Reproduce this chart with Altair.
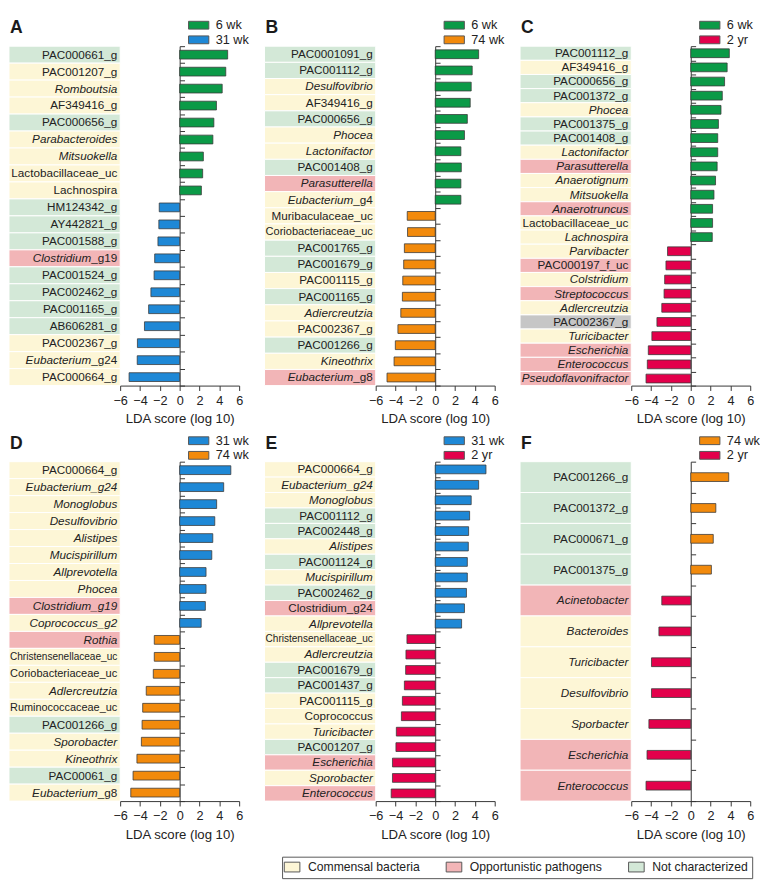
import altair as alt
import pandas as pd

FONT = "Liberation Sans"
LW, PW, H = 114, 122, 348      # label column width, bar plot width, plot height
GAP, VGAP = 15, 9

# ---------------- data ----------------
a_names = ["PAC000661_g", "PAC001207_g", "*Romboutsia*", "AF349416_g", "PAC000656_g",
           "*Parabacteroides*", "*Mitsuokella*", "Lactobacillaceae_uc", "Lachnospira",
           "HM124342_g", "AY442821_g", "PAC001588_g", "*Clostridium*_g19", "PAC001524_g",
           "PAC002462_g", "PAC001165_g", "AB606281_g", "PAC002367_g", "*Eubacterium*_g24",
           "PAC000664_g"]
a_values = [4.84, 4.65, 4.29, 3.71, 3.45, 3.35, 2.39, 2.32, 2.19,
            -2.06, -2.10, -2.19, -2.52, -2.58, -2.90, -3.13, -3.55, -4.26, -4.28, -5.10]
a_class = "NCCCNCCCC" + "NNNPNNNNCCC"
a_groups = ["6 wk", "31 wk"]

b_names = ["PAC0001091_g", "PAC001112_g", "*Desulfovibrio*", "AF349416_g", "PAC000656_g",
           "*Phocea*", "*Lactonifactor*", "PAC001408_g", "*Parasutterella*", "*Eubacterium*_g4",
           "Muribaculaceae_uc", "Coriobacteriaceae_uc", "PAC001765_g", "PAC001679_g",
           "PAC001115_g", "PAC001165_g", "*Adiercreutzia*", "PAC002367_g", "PAC001266_g",
           "*Kineothrix*", "*Eubacterium*_g8"]
b_values = [4.38, 3.73, 3.63, 3.53, 3.24, 2.95, 2.59, 2.63, 2.59, 2.59,
            -2.82, -2.79, -3.11, -3.18, -3.27, -3.31, -3.47, -3.76, -4.02, -4.15, -4.86]
b_class = "NNCCNCCNPC" + "CCNNCNCCNCP"
b_groups = ["6 wk", "74 wk"]

c_names = ["PAC001112_g", "AF349416_g", "PAC000656_g", "PAC001372_g", "*Phocea*",
           "PAC001375_g", "PAC001408_g", "*Lactonifactor*", "*Parasutterella*",
           "*Anaerotignum*", "*Mitsuokella*", "*Anaerotruncus*", "Lactobacillaceae_uc",
           "*Lachnospira*", "*Parvibacter*", "PAC000197_f_uc", "*Colstridium*",
           "*Streptococcus*", "*Adlercreutzia*", "PAC002367_g", "*Turicibacter*",
           "*Escherichia*", "*Enterococcus*", "*Pseudoflavonifractor*"]
c_values = [3.89, 3.67, 3.41, 3.18, 3.05, 2.79, 2.72, 2.72, 2.66, 2.50, 2.34, 2.20, 2.20, 2.17,
            -2.34, -2.50, -2.63, -2.69, -2.92, -3.41, -3.92, -4.28, -4.38, -4.51]
c_class = "NCNNCNNCPCCPCC" + "CPCPCGCPPP"
c_groups = ["6 wk", "2 yr"]

d_names = ["PAC000664_g", "*Eubacterium_g24*", "*Monoglobus*", "*Desulfovibrio*", "*Alistipes*",
           "*Mucispirillum*", "*Allprevotella*", "*Phocea*", "*Clostridium_g19*",
           "*Coprococcus_g2*", "*Rothia*", "Christensenellaceae_uc", "Coriobacteriaceae_uc",
           "*Adlercreutzia*", "Ruminococcaceae_uc", "PAC001266_g", "*Sporobacter*",
           "*Kineothrix*", "PAC00061_g", "*Eubacterium*_g8"]
d_values = [5.16, 4.44, 3.73, 3.54, 3.34, 3.24, 2.66, 2.66, 2.59, 2.17,
            -2.56, -2.56, -2.66, -3.37, -3.73, -3.79, -3.86, -4.31, -4.70, -4.93]
d_class = "CCCCCCCCPC" + "PCCCCNCCNC"
d_groups = ["31 wk", "74 wk"]

e_names = ["PAC000664_g", "*Eubacterium_g24*", "*Monoglobus*", "PAC001112_g", "PAC002448_g",
           "*Alistipes*", "PAC001124_g", "*Mucispirillum*", "PAC002462_g", "Clostridium_g24",
           "*Allprevotella*", "Christensenellaceae_uc", "*Adlercreutzia*", "PAC001679_g",
           "PAC001437_g", "PAC001115_g", "Coprococcus", "*Turicibacter*", "PAC001207_g",
           "*Escherichia*", "*Sporobacter*", "*Enterococcus*"]
e_values = [5.12, 4.38, 3.63, 3.47, 3.37, 3.34, 3.24, 3.24, 3.15, 2.95, 2.66,
            -2.85, -2.95, -2.98, -3.11, -3.31, -3.41, -3.92, -3.96, -4.31, -4.31, -4.44]
e_class = "CCCNNCNCNPC" + "CCNNCCCNPCP"
e_groups = ["31 wk", "2 yr"]

f_names = ["PAC001266_g", "PAC001372_g", "PAC000671_g", "PAC001375_g", "*Acinetobacter*",
           "*Bacteroides*", "*Turicibacter*", "*Desulfovibrio*", "*Sporbacter*",
           "*Escherichia*", "*Enterococcus*"]
f_values = [3.83, 2.53, 2.27, 2.08, -2.92, -3.21, -3.96, -3.96, -4.22, -4.41, -4.51]
f_class = "NNNN" + "PCCCCPP"
f_groups = ["74 wk", "2 yr"]

ticks = [-6, -4, -2, 0, 2, 4, 6]
x_title = "LDA score (log 10)"

CLASS_NAMES = {"C": "Commensal bacteria", "P": "Opportunistic pathogens",
               "N": "Not characterized", "G": "Unclassified"}
CLASS_DOMAIN = ["Commensal bacteria", "Opportunistic pathogens", "Not characterized", "Unclassified"]
CLASS_COLORS = ["#FDF6D6", "#F2B5B7", "#D3E8D7", "#C6C6C6"]
GROUP_COLORS = {"6 wk": "#0B9A47", "31 wk": "#1E88D6", "74 wk": "#F28A0C", "2 yr": "#E3004B"}

# ---------------- text width helper (Arial metrics) ----------------
_W = {}
for ch in "abdeghnopqu0123456789_": _W[ch] = 0.556
for ch in "ckvsxyzJ": _W[ch] = 0.5
for ch in "ijl": _W[ch] = 0.222
for ch in "ft ": _W[ch] = 0.278
_W.update({"r": 0.333, "m": 0.833, "w": 0.722, "L": 0.556, "I": 0.278, "M": 0.833, "W": 0.944})
for ch in "ABEKPSVXY": _W[ch] = 0.667
for ch in "CDHNRU": _W[ch] = 0.722
for ch in "GOQ": _W[ch] = 0.778
for ch in "FTZ": _W[ch] = 0.611


def em(s):
    return sum(_W.get(ch, 0.556) for ch in s)


def label_rows(names):
    rows = []
    for n in names:
        plain = n.replace("*", "")
        fs = min(12.0, 110.0 / em(plain))
        if n.startswith("*"):
            ital = n[1:].split("*")[0]
            rest = n[len(ital) + 2:]
        else:
            ital, rest = "", n
        right = LW - 3
        if rest:
            rows.append(dict(name=plain, text=rest, x=right, fs=fs, style="n"))
        if ital:
            rows.append(dict(name=plain, text=ital, x=right - em(rest) * fs, fs=fs, style="i"))
    return pd.DataFrame(rows)


CLASS_LEGEND = alt.Legend(orient="none", legendX=280, legendY=831, direction="horizontal",
                          columns=3, title=None, values=CLASS_DOMAIN[:3],
                          symbolType="M-1.6,-1H1.6V1H-1.6Z", symbolSize=100,
                          symbolStrokeColor="#555", symbolStrokeWidth=1, symbolOpacity=1,
                          labelFontSize=12.5, labelFont=FONT, labelColor="#222", labelOffset=10,
                          strokeColor="#555", fillColor="white", padding=4, columnPadding=24)


def label_chart(letter, names, classes):
    plain = [n.replace("*", "") for n in names]
    ysc = alt.Scale(domain=plain, paddingInner=0, paddingOuter=0)
    y = alt.Y("name:N", scale=ysc, axis=None)
    bg = pd.DataFrame({"name": plain, "cls": [CLASS_NAMES[c] for c in classes]})
    rect = alt.Chart(bg).mark_rect(stroke="white", strokeWidth=1).encode(
        y=y,
        fill=alt.Fill("cls:N", scale=alt.Scale(domain=CLASS_DOMAIN, range=CLASS_COLORS),
                      legend=CLASS_LEGEND),
    )
    tdf = label_rows(names)
    base = alt.Chart(tdf).encode(
        x=alt.X("x:Q", scale=alt.Scale(domain=[0, LW], nice=False, zero=False), axis=None),
        y=y,
        text="text:N",
        size=alt.Size("fs:Q", scale=None, legend=None),
    )
    up = base.transform_filter(alt.datum.style == "n").mark_text(
        align="right", baseline="middle", font=FONT, color="#222")
    it = base.transform_filter(alt.datum.style == "i").mark_text(
        align="right", baseline="middle", font=FONT, color="#222", fontStyle="italic")
    # panel letter, placed just above the label column
    lt = alt.Chart(pd.DataFrame({"t": [letter]})).mark_text(
        align="left", baseline="alphabetic", fontSize=18, fontWeight="bold", font=FONT,
        color="#1a1a1a").encode(text="t:N", x=alt.value(1), y=alt.value(-13))
    return alt.layer(rect, up, it, lt).properties(width=LW, height=H)


def bar_chart(names, values, groups):
    plain = [n.replace("*", "") for n in names]
    df = pd.DataFrame({"name": plain, "v": values,
                       "g": [groups[0] if v > 0 else groups[1] for v in values]})
    ysc = alt.Scale(domain=plain, paddingInner=0, paddingOuter=0)
    return alt.Chart(df).mark_bar(size=9, stroke="#3a3a3a", strokeWidth=0.8).encode(
        x=alt.X("v:Q", stack=None, scale=alt.Scale(domain=[-6, 6], nice=False),
                axis=alt.Axis(values=ticks, title=x_title, grid=False, labelFlush=False,
                              labelOverlap=False, tickSize=5, tickColor="#333", domainColor="#333",
                              labelFontSize=13, labelColor="#222", labelPadding=4,
                              titleFontSize=13.5, titleFontWeight="normal", titleColor="#222",
                              titlePadding=5)),
        y=alt.Y("name:N", scale=ysc,
                axis=alt.Axis(orient="right", offset=-PW / 2, labels=False, tickBand="extent",
                              tickSize=5, title=None, grid=False, domainColor="#333",
                              tickColor="#333")),
        color=alt.Color("g:N", scale=alt.Scale(domain=groups, range=[GROUP_COLORS[g] for g in groups]),
                        legend=alt.Legend(orient="none", legendX=74, legendY=-28, title=None,
                                          symbolType="M-2.6,-1H2.6V1H-2.6Z", symbolSize=64,
                                          symbolStrokeColor="#555", symbolStrokeWidth=1,
                                          symbolOpacity=1, labelFontSize=13, labelFont=FONT,
                                          labelColor="#222", labelOffset=11, rowPadding=1,
                                          padding=0)),
    ).properties(width=PW, height=H)


def panel(letter, names, values, classes, groups):
    return alt.hconcat(label_chart(letter, names, classes),
                       bar_chart(names, values, groups),
                       spacing=0, bounds="flush").resolve_scale(color="independent")


row1 = alt.hconcat(panel("A", a_names, a_values, a_class, a_groups),
                   panel("B", b_names, b_values, b_class, b_groups),
                   panel("C", c_names, c_values, c_class, c_groups),
                   spacing=GAP).resolve_scale(color="independent")
row2 = alt.hconcat(panel("D", d_names, d_values, d_class, d_groups),
                   panel("E", e_names, e_values, e_class, e_groups),
                   panel("F", f_names, f_values, f_class, f_groups),
                   spacing=GAP).resolve_scale(color="independent")

chart = alt.vconcat(row1, row2, spacing=VGAP).resolve_scale(color="independent").properties(padding=0)

chart = chart.configure_view(stroke=None).configure_axis(
    labelFont=FONT, titleFont=FONT).configure_legend(labelFont=FONT).configure_title(font=FONT)

chart.save("out.html", embed_options={"renderer": "svg", "actions": False})
